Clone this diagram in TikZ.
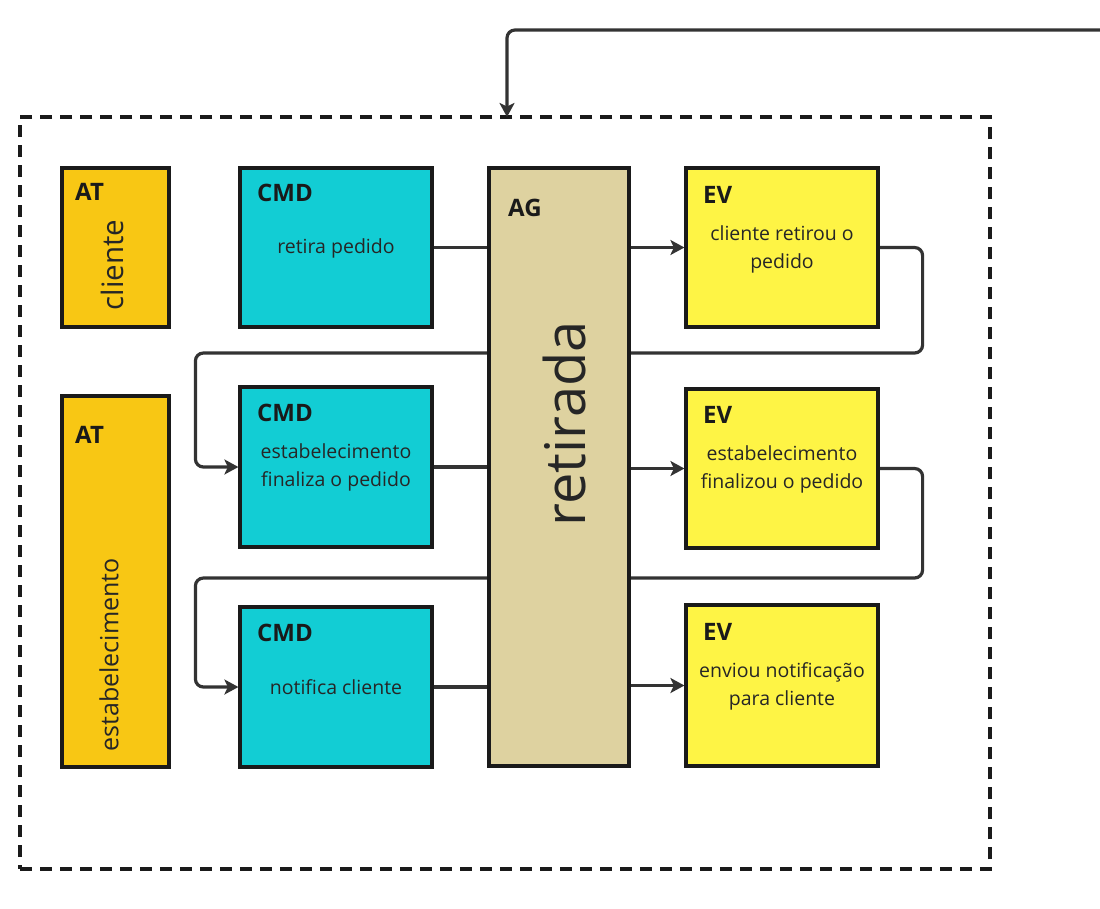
\documentclass[tikz,border=0pt]{standalone}
\usepackage{fontspec}
\setmainfont{Open Sans}
\usetikzlibrary{arrows.meta,backgrounds}
\definecolor{atcol}{HTML}{F8C714}
\definecolor{cmdcol}{HTML}{12CDD4}
\definecolor{evcol}{HTML}{FEF445}
\definecolor{agcol}{HTML}{DED2A0}
\definecolor{bordercol}{HTML}{1A1A1A}
\definecolor{linecol}{HTML}{333333}
\definecolor{txtcol}{HTML}{262626}
\tikzset{
  card/.style={draw=bordercol, line width=3.2pt, rectangle, inner sep=0pt},
  titletxt/.style={anchor=west, inner sep=0pt, text=bordercol, font=\fontsize{24}{28}\selectfont\bfseries},
  bodytxt/.style={align=center, inner sep=0pt, text=txtcol, font=\fontsize{19.5}{28}\selectfont},
  plainline/.style={draw=linecol, line width=3.2pt},
  arrowline/.style={draw=linecol, line width=3.2pt, rounded corners=8pt, -{Stealth[length=14pt,width=15pt,inset=3.5pt]}},
  framebox/.style={draw=bordercol, line width=3.2pt, dash pattern=on 12pt off 8pt, inner sep=0pt}
}
\begin{document}
\begin{tikzpicture}[x=1pt,y=-1pt]
\useasboundingbox (0,0) rectangle (1100,908);
% frame
\node[framebox, minimum width=970pt, minimum height=752pt] (frame) at (505,493) {};
% actors
\node[card, fill=atcol, minimum width=107pt, minimum height=159pt] (at1) at (115.5,247.5) {};
\node[card, fill=atcol, minimum width=107pt, minimum height=371pt] (at2) at (115.5,581.5) {};
% commands
\node[card, fill=cmdcol, minimum width=192pt, minimum height=159pt] (cmd1) at (336,247.5) {};
\node[card, fill=cmdcol, minimum width=192pt, minimum height=160pt] (cmd2) at (336,467) {};
\node[card, fill=cmdcol, minimum width=192pt, minimum height=160pt] (cmd3) at (336,687) {};
% aggregate
\node[card, fill=agcol, minimum width=140pt, minimum height=598pt] (ag) at (559,467) {};
% events
\node[card, fill=evcol, minimum width=192pt, minimum height=159pt] (ev1) at (782,247.5) {};
\node[card, fill=evcol, minimum width=192pt, minimum height=159pt] (ev2) at (782,468.5) {};
\node[card, fill=evcol, minimum width=192pt, minimum height=161pt] (ev3) at (782,685.5) {};
% titles
\node[titletxt] (at1t) at (75,192) {AT};
\node[titletxt] (at2t) at (75,435) {AT};
\node[titletxt] (cmd1t) at (257,193) {CMD};
\node[titletxt] (cmd2t) at (257,413) {CMD};
\node[titletxt] (cmd3t) at (257,633) {CMD};
\node[titletxt] (agt) at (508,208) {AG};
\node[titletxt] (ev1t) at (703,195) {EV};
\node[titletxt] (ev2t) at (703,415) {EV};
\node[titletxt] (ev3t) at (703,632) {EV};
% body texts
\node[bodytxt, rotate=90, font=\fontsize{29.5}{32}\selectfont] (at1b) at (112,265) {cliente};
\node[bodytxt, rotate=90, font=\fontsize{25}{28}\selectfont] (at2b) at (109,655) {estabelecimento};
\node[bodytxt] (cmd1b) at (336,248) {retira pedido};
\node[bodytxt] (cmd2b) at (336,467) {estabelecimento\\finaliza o pedido};
\node[bodytxt] (cmd3b) at (336,687) {notifica cliente};
\node[bodytxt, rotate=90, font=\fontsize{56}{60}\selectfont] (agb) at (564,424) {retirada};
\node[bodytxt] (ev1b) at (782,249) {cliente retirou o\\pedido};
\node[bodytxt] (ev2b) at (782,469) {estabelecimento\\finalizou o pedido};
\node[bodytxt] (ev3b) at (782,686) {enviou notificação\\para cliente};
% connectors
\coordinate (topstart) at (1100,30);
\coordinate (topin) at (507,117);
\draw[arrowline] (topstart) -| (topin);
\draw[plainline] (cmd1.east) -- (cmd1.east -| ag.west);
\draw[plainline] (cmd2.east) -- (cmd2.east -| ag.west);
\draw[plainline] (cmd3.east) -- (cmd3.east -| ag.west);
\draw[arrowline] (ev1.west -| ag.east) -- (ev1.west);
\draw[arrowline] (ev2.west -| ag.east) -- (ev2.west);
\draw[arrowline] (ev3.west -| ag.east) -- (ev3.west);
\begin{pgfonlayer}{background}
\draw[arrowline] (ev1.east) -- ++(43,0) -- ++(0,105.5) -| ([xshift=-43pt]cmd2.west) -- (cmd2.west);
\draw[arrowline] (ev2.east) -- ++(43,0) -- ++(0,109.5) -| ([xshift=-43pt]cmd3.west) -- (cmd3.west);
\end{pgfonlayer}
\end{tikzpicture}
\end{document}
